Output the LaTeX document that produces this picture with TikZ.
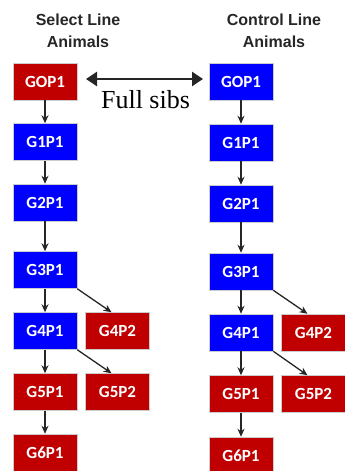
\documentclass[tikz,border=0pt]{standalone}
\usepackage{fontspec}
\setmainfont{Liberation Serif}
\newfontfamily\boxfont{Carlito}
\newfontfamily\headfont{Liberation Sans}
\usetikzlibrary{arrows.meta}
\definecolor{selred}{HTML}{C00000}
\definecolor{genblue}{HTML}{0000FF}
\definecolor{arrowgray}{HTML}{262626}
\begin{document}
\begin{tikzpicture}[x=1pt,y=-1pt,
  gen/.style={draw=gray!40, line width=0.5pt, minimum width=64pt, minimum height=37pt,
    inner sep=0pt, text=white, font=\boxfont\bfseries\fontsize{17}{17}\selectfont},
  redbox/.style={gen, fill=selred},
  bluebox/.style={gen, fill=genblue},
  head/.style={align=center, font=\headfont\bfseries\fontsize{16}{22}\selectfont, text=black!85},
  link/.style={draw=arrowgray, line width=1.3pt, -{Stealth[length=8pt,width=7pt]}},
  sibs/.style={draw=arrowgray, line width=2.5pt, {Triangle[length=11pt,width=14pt]}-{Triangle[length=11pt,width=14pt]}}]
\useasboundingbox (0,0) rectangle (345,471);
\begin{scope}
\clip (0,0) rectangle (345,471);

% column headers
\node[head] (hs) at (78,31) {Select Line\\Animals};
\node[head] (hc) at (274,31) {Control Line\\Animals};

% select line
\node[redbox]  (s0) at (45,81.5) {GOP1};
\node[bluebox] (s1) at (45,142) {G1P1};
\node[bluebox] (s2) at (45,202.5) {G2P1};
\node[bluebox] (s3) at (45,270) {G3P1};
\node[bluebox] (s4) at (45,331) {G4P1};
\node[redbox]  (s4b) at (117.5,331) {G4P2};
\node[redbox]  (s5) at (45,392) {G5P1};
\node[redbox]  (s5b) at (117.5,392) {G5P2};
\node[redbox]  (s6) at (45,452.5) {G6P1};

% control line
\node[bluebox] (c0) at (241,81.5) {GOP1};
\node[bluebox] (c1) at (241,142.5) {G1P1};
\node[bluebox] (c2) at (241,203.5) {G2P1};
\node[bluebox] (c3) at (241,271.5) {G3P1};
\node[bluebox] (c4) at (241,332.5) {G4P1};
\node[redbox]  (c4b) at (313.5,332.5) {G4P2};
\node[redbox]  (c5) at (241,394) {G5P1};
\node[redbox]  (c5b) at (313.5,394) {G5P2};
\node[redbox]  (c6) at (241,455.5) {G6P1};

% full-sib link between founders
\coordinate (fa) at (86,79);
\coordinate (fb) at (203,79);
\draw[sibs] (fa) -- (fb);
\node[font=\fontsize{26}{26}\selectfont, anchor=base] (fs) at (145.5,108) {Full sibs};

% descent arrows
\foreach \a/\b in {s0/s1,s1/s2,s2/s3,s3/s4,s4/s5,s5/s6,c0/c1,c1/c2,c2/c3,c3/c4,c4/c5,c5/c6}
  \draw[link] (\a.south) -- (\b.north);
\draw[link] (s3.south east) -- ([xshift=-6pt]s4b.north);
\draw[link] (s4.south east) -- ([xshift=-6pt]s5b.north);
\draw[link] (c3.south east) -- ([xshift=-6pt]c4b.north);
\draw[link] (c4.south east) -- ([xshift=-6pt]c5b.north);
\end{scope}
\end{tikzpicture}
\end{document}
